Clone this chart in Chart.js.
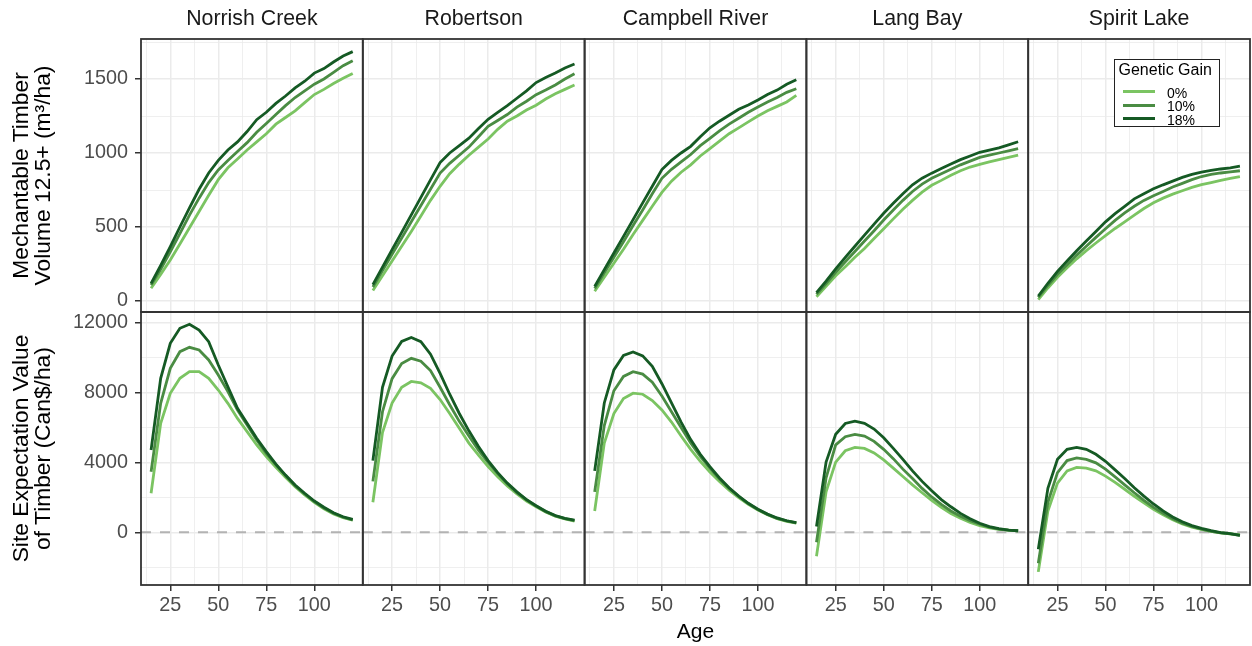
<!DOCTYPE html>
<html>
<head>
<meta charset="utf-8">
<script src="https://cdn.jsdelivr.net/npm/chart.js@4.4.1/dist/chart.umd.min.js"></script>
<style>
  body { margin: 0; background: #fff; font-family: 'Liberation Sans', Arial, sans-serif; }
  #wrap { position: relative; width: 1252px; height: 646px; overflow: hidden; }
  #chart { position: absolute; left: 0; top: 0; }
  .strip { position: absolute; top: 8px; font-size: 21.3px; line-height: 21px; color: #1a1a1a; transform: translateX(-50%); white-space: nowrap; }
  .ytitle { position: absolute; width: 273px; height: 43px; font-size: 22.8px; line-height: 21.5px; text-align: center; color: #000; transform: rotate(-90deg); white-space: nowrap; }
  #xtitle { position: absolute; top: 620px; font-size: 21px; line-height: 21px; color: #000; transform: translateX(-50%); }
  #legend { position: absolute; left: 1114px; top: 59px; width: 106px; height: 68px; box-sizing: border-box; border: 1px solid #222; background: #fff; }
  #legend .ttl { position: absolute; left: 3.5px; top: 1.5px; font-size: 16px; line-height: 16px; color: #000; white-space: nowrap; }
  #legend .sw { position: absolute; left: 7.7px; width: 32.3px; height: 3px; }
  #legend .lab { position: absolute; left: 52px; font-size: 14px; line-height: 14px; color: #000; }
</style>
</head>
<body>
<div id="wrap">
  <canvas id="chart" width="1252" height="646"></canvas>
  <div class="ytitle" style="left:-105px; top:154px;">Mechantable Timber<br>Volume 12.5+ (m³/ha)</div>
  <div class="ytitle" style="left:-105px; top:427px;">Site Expectation Value<br>of Timber (Can$/ha)</div>
  <div id="xtitle" style="left:695.5px;">Age</div>
  <div id="legend"><div class="ttl">Genetic Gain</div></div>
</div>
<script>
// stand age (years)
const ages = [15, 20, 25, 30, 35, 40, 45, 50, 55, 60, 65, 70, 75, 80, 85, 90, 95, 100, 105, 110, 115, 120];
const sites = ['Norrish Creek', 'Robertson', 'Campbell River', 'Lang Bay', 'Spirit Lake'];
const gains = ['0%', '10%', '18%'];
const gainColors = ['#7bc462', '#4a8c43', '#155a24'];

// tick labels and grid breaks
const xLabels = [25, 50, 75, 100];
const xGrid = [12.5, 25, 37.5, 50, 62.5, 75, 87.5, 100, 112.5];
const volLabels = [0, 500, 1000, 1500];
const volGrid = [0, 250, 500, 750, 1000, 1250, 1500, 1750];
const sevLabels = [0, 4000, 8000, 12000];
const sevGrid = [-2000, 0, 2000, 4000, 6000, 8000, 10000, 12000];

// merchantable volume (m3/ha)
const volNorrish0 = [86, 180, 277, 385, 495, 605, 715, 820, 900, 960, 1020, 1075, 1130, 1195, 1240, 1285, 1340, 1395, 1430, 1470, 1505, 1538];
const volNorrish10 = [108, 215, 333, 455, 580, 695, 800, 885, 950, 1010, 1070, 1140, 1200, 1260, 1320, 1375, 1420, 1465, 1500, 1545, 1590, 1624];
const volNorrish18 = [119, 240, 367, 500, 630, 755, 865, 950, 1020, 1075, 1145, 1225, 1275, 1335, 1385, 1440, 1485, 1540, 1570, 1615, 1655, 1685];
const volRobertson0 = [71, 170, 270, 370, 470, 575, 680, 775, 860, 925, 985, 1040, 1095, 1160, 1215, 1250, 1290, 1323, 1365, 1400, 1430, 1459];
const volRobertson10 = [95, 205, 315, 425, 535, 645, 755, 864, 930, 985, 1040, 1110, 1180, 1220, 1260, 1310, 1350, 1394, 1425, 1460, 1500, 1535];
const volRobertson18 = [111, 229, 347, 464, 582, 700, 818, 935, 1000, 1050, 1100, 1165, 1228, 1275, 1320, 1370, 1420, 1476, 1510, 1540, 1575, 1601];
const volCampbell0 = [66, 160, 255, 350, 450, 545, 640, 734, 810, 870, 920, 980, 1029, 1080, 1130, 1170, 1210, 1250, 1285, 1315, 1345, 1389];
const volCampbell10 = [85, 190, 295, 400, 510, 615, 725, 829, 890, 940, 990, 1050, 1099, 1150, 1195, 1235, 1275, 1311, 1345, 1375, 1410, 1434];
const volCampbell18 = [99, 212, 324, 437, 550, 663, 775, 888, 950, 1000, 1045, 1110, 1170, 1215, 1255, 1295, 1325, 1358, 1395, 1425, 1465, 1495];
const volLang0 = [29, 100, 170, 232, 295, 355, 422, 488, 555, 620, 680, 735, 782, 815, 850, 880, 905, 923, 940, 955, 970, 986];
const volLang10 = [45, 118, 193, 265, 335, 405, 475, 547, 615, 680, 740, 790, 829, 860, 890, 920, 945, 970, 985, 1000, 1015, 1029];
const volLang18 = [57, 135, 217, 295, 370, 445, 520, 593, 660, 725, 785, 830, 864, 895, 925, 955, 980, 1005, 1020, 1035, 1055, 1076];
const volSpirit0 = [10, 88, 160, 225, 285, 340, 392, 441, 490, 535, 580, 625, 664, 695, 722, 745, 768, 786, 800, 815, 828, 841];
const volSpirit10 = [24, 105, 180, 245, 310, 370, 430, 488, 545, 595, 640, 680, 711, 740, 770, 795, 820, 841, 855, 865, 872, 880];
const volSpirit18 = [34, 120, 200, 270, 340, 405, 470, 535, 590, 640, 690, 725, 758, 785, 810, 835, 855, 871, 882, 892, 900, 911];

// site expectation value of timber (Can$/ha)
const sevNorrish0 = [2230, 6230, 7940, 8800, 9180, 9180, 8800, 8130, 7370, 6510, 5750, 4990, 4320, 3710, 3140, 2610, 2130, 1710, 1350, 1050, 830, 690];
const sevNorrish10 = [3460, 7370, 9370, 10320, 10570, 10420, 9850, 8990, 8040, 6990, 6130, 5270, 4510, 3850, 3240, 2660, 2190, 1750, 1390, 1090, 860, 710];
const sevNorrish18 = [4700, 8800, 10800, 11660, 11890, 11560, 10890, 9560, 8320, 7090, 6230, 5370, 4610, 3900, 3270, 2700, 2230, 1790, 1430, 1120, 890, 740];
const sevRobertson0 = [1720, 5700, 7390, 8290, 8620, 8540, 8230, 7590, 6790, 5940, 5100, 4410, 3750, 3170, 2650, 2190, 1790, 1460, 1160, 920, 760, 640];
const sevRobertson10 = [2910, 6890, 8780, 9640, 9940, 9780, 9240, 8290, 7290, 6340, 5500, 4700, 3990, 3350, 2770, 2270, 1860, 1500, 1180, 940, 780, 670];
const sevRobertson18 = [4100, 8290, 10070, 10910, 11130, 10890, 10180, 9080, 7890, 6790, 5800, 4900, 4100, 3410, 2810, 2310, 1870, 1520, 1200, 960, 800, 700];
const sevCampbell0 = [1220, 5100, 6790, 7650, 7950, 7890, 7530, 6990, 6300, 5500, 4740, 4060, 3450, 2910, 2410, 1980, 1600, 1280, 1000, 780, 620, 530];
const sevCampbell10 = [2310, 6100, 8090, 8910, 9180, 9040, 8580, 7790, 6890, 5990, 5100, 4340, 3670, 3050, 2510, 2060, 1640, 1300, 1020, 800, 650, 540];
const sevCampbell18 = [3510, 7390, 9280, 10110, 10310, 10080, 9480, 8490, 7390, 6300, 5300, 4460, 3750, 3110, 2550, 2070, 1660, 1320, 1040, 820, 660, 560];
const sevLang0 = [-1370, 2310, 4010, 4660, 4850, 4790, 4540, 4140, 3670, 3190, 2710, 2260, 1820, 1420, 1080, 800, 560, 380, 260, 170, 120, 80];
const sevLang10 = [-570, 3110, 5000, 5460, 5600, 5500, 5200, 4740, 4210, 3610, 3070, 2510, 2020, 1600, 1220, 920, 660, 460, 300, 180, 120, 80];
const sevLang18 = [330, 4010, 5600, 6220, 6350, 6230, 5900, 5400, 4800, 4170, 3510, 2910, 2370, 1870, 1460, 1080, 780, 520, 330, 210, 130, 90];
const sevSpirit0 = [-2260, 1220, 2810, 3510, 3710, 3670, 3510, 3210, 2850, 2460, 2060, 1680, 1320, 1000, 720, 480, 300, 170, 50, -30, -90, -140];
const sevSpirit10 = [-1770, 1720, 3410, 4100, 4250, 4170, 3970, 3610, 3170, 2710, 2260, 1830, 1420, 1080, 780, 520, 330, 180, 60, -30, -90, -170];
const sevSpirit18 = [-970, 2510, 4170, 4740, 4850, 4740, 4460, 4060, 3570, 3070, 2550, 2070, 1620, 1220, 880, 600, 380, 220, 90, -20, -70, -170];

const volume = [
  [volNorrish0, volNorrish10, volNorrish18],
  [volRobertson0, volRobertson10, volRobertson18],
  [volCampbell0, volCampbell10, volCampbell18],
  [volLang0, volLang10, volLang18],
  [volSpirit0, volSpirit10, volSpirit18]
];
const sev = [
  [sevNorrish0, sevNorrish10, sevNorrish18],
  [sevRobertson0, sevRobertson10, sevRobertson18],
  [sevCampbell0, sevCampbell10, sevCampbell18],
  [sevLang0, sevLang10, sevLang18],
  [sevSpirit0, sevSpirit10, sevSpirit18]
];

Chart.defaults.font.family = "'Liberation Sans', Arial, sans-serif";

// build datasets, one per site/gain/panel row
const datasets = [];
sites.forEach((site, i) => {
  gains.forEach((gain, g) => {
    [['yVol', volume[i][g]], ['ySev', sev[i][g]]].forEach(([yId, vals]) => {
      datasets.push({
        label: site + ' ' + gain,
        data: ages.map((a, k) => ({ x: a, y: vals[k] })),
        xAxisID: 'x' + i,
        yAxisID: yId,
        borderColor: gainColors[g],
        borderWidth: 2.8,
        pointRadius: 0,
        tension: 0,
        fill: false,
        order: 2 - g
      });
    });
  });
});

function gridOpts(labels) {
  return {
    color: '#ebebeb',
    lineWidth: c => (c.tick && labels.includes(c.tick.value)) ? 1.5 : 0.8,
    drawTicks: true,
    tickLength: 6,
    tickWidth: 1.5,
    tickColor: c => (c.tick && labels.includes(c.tick.value)) ? '#333333' : 'rgba(0,0,0,0)'
  };
}

const tickFont = { size: 19.8 };

function yScale(weight, min, max, grid, labels) {
  return {
    type: 'linear', position: 'left', stack: 'rows', stackWeight: 1, weight: weight,
    min: min, max: max,
    afterBuildTicks: s => { s.ticks = grid.map(v => ({ value: v })); },
    afterFit: s => { s.width = 141; },
    border: { display: false },
    grid: gridOpts(labels),
    ticks: {
      autoSkip: false, padding: 7, color: '#4d4d4d', font: tickFont,
      callback: v => labels.includes(v) ? String(v) : ''
    }
  };
}

const scales = {};
sites.forEach((site, i) => {
  scales['x' + i] = {
    type: 'linear',
    position: 'bottom',
    stack: 'cols',
    stackWeight: 1,
    weight: i,
    min: 9.75,
    max: 125.25,
    afterBuildTicks: s => { s.ticks = xGrid.map(v => ({ value: v })); },
    afterFit: s => { s.height = 61; },
    border: { display: false },
    grid: gridOpts(xLabels),
    ticks: {
      autoSkip: false, maxRotation: 0, minRotation: 0, padding: 3,
      color: '#4d4d4d', font: tickFont,
      callback: v => xLabels.includes(v) ? String(v) : ''
    }
  };
});
scales.yVol = yScale(1, -74.3, 1770.3, volGrid, volLabels);
scales.ySev = yScale(0, -3011, 12589, sevGrid, sevLabels);

// dashed zero line under the data, panel frames on top
const panelFrame = {
  id: 'panelFrame',
  beforeDatasetsDraw(chart) {
    const ctx = chart.ctx;
    const y0 = chart.scales.ySev.getPixelForValue(0);
    ctx.save();
    ctx.strokeStyle = '#b3b3b3';
    ctx.lineWidth = 2;
    ctx.setLineDash([10, 9]);
    sites.forEach((s, i) => {
      const xs = chart.scales['x' + i];
      ctx.beginPath();
      ctx.moveTo(xs.left, y0);
      ctx.lineTo(xs.right, y0);
      ctx.stroke();
    });
    ctx.restore();
  },
  afterDatasetsDraw(chart) {
    const ctx = chart.ctx;
    ctx.save();
    ctx.strokeStyle = '#333333';
    ctx.lineWidth = 1.8;
    sites.forEach((s, i) => {
      const xs = chart.scales['x' + i];
      ['yVol', 'ySev'].forEach(id => {
        const ys = chart.scales[id];
        ctx.strokeRect(xs.left, ys.top, xs.right - xs.left, ys.bottom - ys.top);
      });
    });
    ctx.restore();
  }
};

const chart = new Chart(document.getElementById('chart').getContext('2d'), {
  type: 'line',
  data: { datasets: datasets },
  options: {
    responsive: false,
    animation: false,
    devicePixelRatio: 1,
    layout: { padding: { top: 39, right: 2, left: 0, bottom: 0 } },
    plugins: { legend: { display: false }, tooltip: { enabled: false } },
    scales: scales
  },
  plugins: [panelFrame]
});

// strip labels over each column
const wrap = document.getElementById('wrap');
sites.forEach((site, i) => {
  const xs = chart.scales['x' + i];
  const d = document.createElement('div');
  d.className = 'strip';
  d.style.left = ((xs.left + xs.right) / 2) + 'px';
  d.textContent = site;
  wrap.appendChild(d);
});

// legend
const legend = document.getElementById('legend');
gains.forEach((gain, g) => {
  const sw = document.createElement('div');
  sw.className = 'sw';
  sw.style.top = (30.2 + g * 13.5) + 'px';
  sw.style.background = gainColors[g];
  legend.appendChild(sw);
  const lab = document.createElement('div');
  lab.className = 'lab';
  lab.style.top = (25.6 + g * 13.5) + 'px';
  lab.textContent = gain;
  legend.appendChild(lab);
});
</script>
</body>
</html>
